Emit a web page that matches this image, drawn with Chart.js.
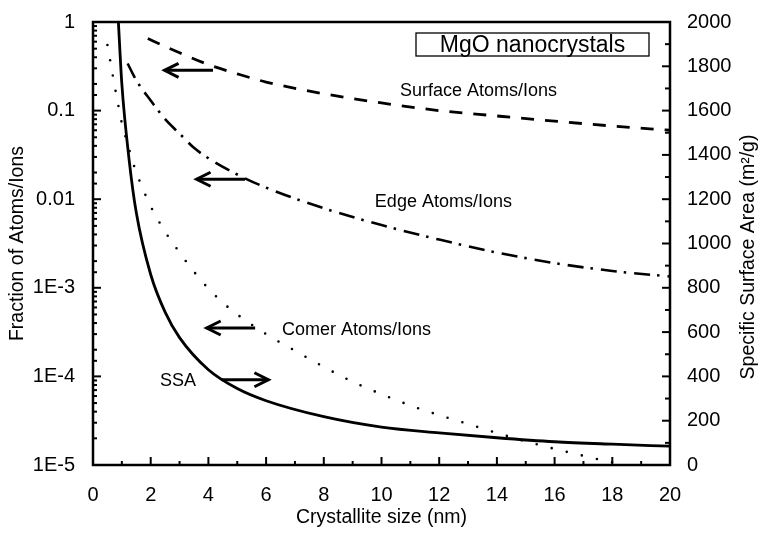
<!DOCTYPE html>
<html>
<head>
<meta charset="utf-8">
<title>MgO nanocrystals</title>
<script src="https://cdn.jsdelivr.net/npm/chart.js@4.4.1/dist/chart.umd.min.js"></script>
<style>
  html, body { margin: 0; padding: 0; background: #fff; }
  #wrap { position: relative; width: 768px; height: 536px; }
</style>
</head>
<body>
<div id="wrap"><canvas id="chart"></canvas></div>
<script>
// Crystallite size (nm) -> fraction of atoms/ions at surface, edges and corners
const surfaceSize = [1.9, 2.5, 3, 4, 5, 6, 8, 10, 12, 14, 16, 18, 20];
const surfaceFraction = [0.65, 0.53, 0.45, 0.33, 0.26, 0.21, 0.155, 0.122, 0.1, 0.087, 0.076, 0.067, 0.06];

const edgeSize = [1.2, 1.5, 2, 2.5, 3, 3.5, 4, 5, 6, 8, 10, 12, 14, 16, 18, 20];
const edgeFraction = [0.34, 0.22, 0.13, 0.08, 0.055, 0.038, 0.029, 0.019, 0.0135, 0.0079, 0.0051, 0.0035, 0.0025, 0.0019, 0.00155, 0.00134];

const cornerSize = [0.5, 0.6, 0.7, 0.8, 0.9, 1, 1.2, 1.4, 1.6, 1.8, 2, 2.5, 3, 3.5, 4, 4.5, 5, 6, 7, 8, 9, 10, 11, 12, 13, 14, 15, 16, 17, 18, 19];
const cornerFraction = [0.55, 0.36, 0.235, 0.155, 0.105, 0.072, 0.042, 0.025, 0.0165, 0.0115, 0.0083, 0.0043, 0.0025, 0.00152, 0.00098, 0.00068, 0.0005,
  0.0003, 0.000195, 0.000128, 8.7e-5, 6.3e-5, 4.7e-5, 3.65e-5, 2.9e-5, 2.3e-5, 1.85e-5, 1.52e-5, 1.27e-5, 1.07e-5, 9.2e-6];

// Specific surface area (m2/g), right axis
const ssaSize = [0.88, 1, 1.25, 1.5, 2, 2.5, 3, 4, 5, 6, 8, 10, 12, 14, 16, 18, 20];
const ssaArea = [2000, 1720, 1380, 1140, 860, 690, 575, 430, 345, 290, 218, 171, 145, 123, 105, 94, 85];

const fractionTickLabels = ["1", "0.1", "0.01", "1E-3", "1E-4", "1E-5"];

const FONT = "'Liberation Sans', Arial, Helvetica, sans-serif";

const toPoints = (xs, ys) => xs.map((x, i) => ({ x, y: ys[i] }));

function isDecade(v) {
  const l = Math.log10(v);
  return Math.abs(l - Math.round(l)) < 1e-6;
}

// inward tick marks, plot frame, arrows and curve labels
const plotDecorations = {
  id: "plotDecorations",
  afterDraw(chart) {
    const { ctx, chartArea: a, scales } = chart;
    const { x, y, y2 } = scales;

    ctx.save();
    ctx.strokeStyle = "#000";
    ctx.fillStyle = "#000";

    const seg = (x0, y0, x1, y1) => {
      ctx.beginPath();
      ctx.moveTo(x0, y0);
      ctx.lineTo(x1, y1);
      ctx.stroke();
    };

    ctx.lineWidth = 2;
    x.ticks.forEach((t) => {
      const px = x.getPixelForValue(t.value);
      seg(px, a.bottom, px, a.bottom - (t.value % 2 === 0 ? 8 : 4));
    });
    y.ticks.forEach((t) => {
      const py = y.getPixelForValue(t.value);
      seg(a.left, py, a.left + (isDecade(t.value) ? 8 : 4), py);
    });
    y2.ticks.forEach((t) => {
      const py = y2.getPixelForValue(t.value);
      seg(a.right, py, a.right - (t.value % 200 === 0 ? 8 : 5), py);
    });

    ctx.lineWidth = 2.5;
    ctx.strokeRect(a.left, a.top, a.right - a.left, a.bottom - a.top);

    // arrows telling which axis each curve belongs to
    const arrow = (xTail, xHead, py) => {
      const tx = x.getPixelForValue(xTail);
      const hx = x.getPixelForValue(xHead);
      const dir = Math.sign(hx - tx);
      ctx.lineWidth = 3;
      seg(tx, py, hx, py);
      ctx.beginPath();
      ctx.moveTo(hx - dir * 14, py - 7);
      ctx.lineTo(hx, py);
      ctx.lineTo(hx - dir * 14, py + 7);
      ctx.stroke();
    };
    arrow(4.16, 2.48, y.getPixelForValue(0.285));
    arrow(5.27, 3.59, y.getPixelForValue(0.0168));
    arrow(5.62, 3.94, y.getPixelForValue(3.52e-4));
    arrow(4.46, 6.08, y2.getPixelForValue(385));

    ctx.font = "18px " + FONT;
    ctx.textAlign = "left";
    ctx.textBaseline = "middle";
    ctx.fillText("Surface Atoms/Ions", x.getPixelForValue(10.64), y.getPixelForValue(0.165));
    ctx.fillText("Edge Atoms/Ions", x.getPixelForValue(9.77), y.getPixelForValue(0.0092));
    ctx.fillText("Comer Atoms/Ions", x.getPixelForValue(6.55), y.getPixelForValue(3.32e-4));
    ctx.fillText("SSA", x.getPixelForValue(2.32), y2.getPixelForValue(380));

    // boxed title in the upper right corner
    const bw = 233, bh = 23;
    const bx = a.right - 254, by = a.top + 11;
    ctx.lineWidth = 1.3;
    ctx.strokeRect(bx, by, bw, bh);
    ctx.font = "23px " + FONT;
    ctx.textAlign = "center";
    ctx.fillText("MgO nanocrystals", bx + bw / 2, by + bh / 2 + 1);

    // right axis title reads bottom to top like the left one
    ctx.save();
    ctx.translate(749, 257);
    ctx.rotate(-Math.PI / 2);
    ctx.font = "19.5px " + FONT;
    ctx.fillText("Specific Surface Area (m\u00B2/g)", 0, 0);
    ctx.restore();

    ctx.restore();
  },
};

const line = (label, data, yAxisID, dash, width) => ({
  label,
  data,
  yAxisID,
  showLine: true,
  borderColor: "#000",
  borderWidth: width,
  borderDash: dash,
  borderCapStyle: dash.length === 2 && dash[0] === 0 ? "round" : "butt",
  pointRadius: 0,
  pointHoverRadius: 0,
  cubicInterpolationMode: "monotone",
  fill: false,
});

new Chart(document.getElementById("chart"), {
  type: "scatter",
  data: {
    datasets: [
      line("Surface Atoms/Ions", toPoints(surfaceSize, surfaceFraction), "y", [13, 11], 2.8),
      line("Edge Atoms/Ions", toPoints(edgeSize, edgeFraction), "y", [16, 7, 2.5, 8], 2.6),
      line("Comer Atoms/Ions", toPoints(cornerSize, cornerFraction), "y", [0, 15.5], 2.6),
      line("SSA", toPoints(ssaSize, ssaArea), "y2", [], 2.8),
    ],
  },
  options: {
    responsive: true,
    maintainAspectRatio: false,
    animation: false,
    layout: { padding: { top: 18, left: 0, right: 0, bottom: 0 } },
    plugins: { legend: { display: false }, tooltip: { enabled: false } },
    scales: {
      x: {
        type: "linear",
        min: 0,
        max: 20,
        grid: { display: false },
        border: { display: false },
        ticks: {
          stepSize: 1,
          autoSkip: false,
          maxRotation: 0,
          padding: 10,
          color: "#000",
          font: { family: FONT, size: 20 },
          callback: (v) => (v % 2 === 0 ? String(v) : ""),
        },
        title: {
          display: true,
          text: "Crystallite size (nm)",
          color: "#000",
          font: { family: FONT, size: 19.5 },
          padding: { top: 0, bottom: 7 },
        },
        afterFit: (scale) => { scale.height = 71; },
      },
      y: {
        type: "logarithmic",
        position: "left",
        min: 1e-5,
        max: 1,
        grid: { display: false },
        border: { display: false },
        ticks: {
          autoSkip: false,
          padding: 10,
          color: "#000",
          font: { family: FONT, size: 20 },
          callback: (v) => (isDecade(v) ? fractionTickLabels[-Math.round(Math.log10(v))] : ""),
        },
        title: {
          display: true,
          text: "Fraction of Atoms/Ions",
          color: "#000",
          font: { family: FONT, size: 19.5 },
          padding: { top: 6, bottom: 0 },
        },
        afterFit: (scale) => { scale.width = 93; },
      },
      y2: {
        type: "linear",
        position: "right",
        min: 0,
        max: 2000,
        grid: { display: false },
        border: { display: false },
        ticks: {
          stepSize: 100,
          autoSkip: false,
          padding: 9,
          color: "#000",
          font: { family: FONT, size: 20 },
          callback: (v) => (v % 200 === 0 ? String(v) : ""),
        },
        afterFit: (scale) => { scale.width = 98; },
      },
    },
  },
  plugins: [plotDecorations],
});
</script>
</body>
</html>
